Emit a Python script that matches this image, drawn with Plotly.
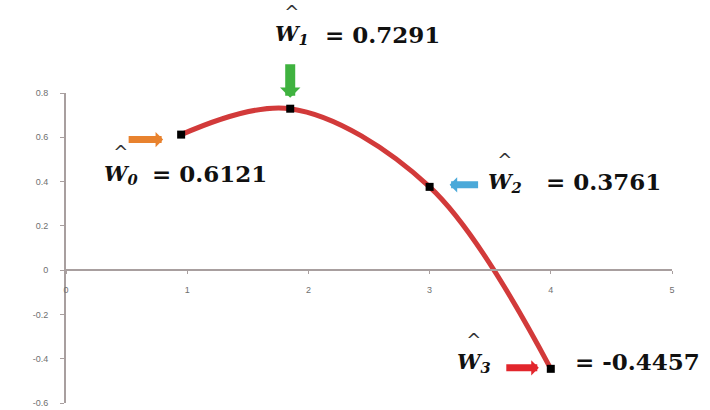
import plotly.graph_objects as go

# ---- data ----
x_vals = [0.95, 1.85, 3, 4]
w_vals = [0.6121, 0.7291, 0.3761, -0.4457]
w_subs = ["0", "1", "2", "3"]
w_text = ["= 0.6121", "= 0.7291", "= 0.3761", "= -0.4457"]

x_ticks = [0, 1, 2, 3, 4, 5]
x_ticktext = ["0", "1", "2", "3", "4", "5"]
y_ticks = [-0.6, -0.4, -0.2, 0, 0.2, 0.4, 0.6, 0.8]
y_ticktext = ["-0.6", "-0.4", "-0.2", "0", "0.2", "0.4", "0.6", "0.8"]

# ---- styling / label placement (pixel offsets from each point) ----
arrow_colors = ["#e8822e", "#3fb23f", "#4ba9d9", "#e2262c"]
arrow_ax = [-54, 0, 50, -46]
arrow_ay = [0, -46, 0, 0]
arrow_yshift = [-5, 0, 2, 1]
arrow_standoff = [18, 11, 20, 12]
arrow_width = [7, 10, 7, 7]
arrow_size = [0.36, 0.34, 0.36, 0.36]

w_xshift = [-79, -17, 56, -96]
w_yshift = [-30, 84, 14, 16]
v_xshift = [-31, 33, 114, 22]
v_yshift = [-39, 74, 5, 7]

axis_color = "#a89f9f"
tick_font = dict(family="Liberation Sans", size=9, color="#6f6f6f")
label_font = dict(family="DejaVu Serif", size=23, color="#111111")
w_font = dict(family="DejaVu Serif", size=21, color="#111111")
hat_html = ("<sub><span style='font-size:18px;font-family:DejaVu Sans;"
            "fill:#333'>^</span></sub>")

fig = go.Figure()
fig.add_trace(go.Scatter(
    x=x_vals, y=w_vals, mode="lines+markers",
    line=dict(color="#d23a3a", width=5, shape="spline", smoothing=1.0),
    marker=dict(symbol="square", size=8, color="black"),
    cliponaxis=False, showlegend=False, hoverinfo="skip",
))

annotations = []
for i in range(len(x_vals)):
    xv, yv = x_vals[i], w_vals[i]
    annotations.append(dict(
        x=xv, y=yv, xref="x", yref="y", text="", showarrow=True,
        ax=arrow_ax[i], ay=arrow_ay[i], arrowhead=1, arrowsize=arrow_size[i],
        arrowwidth=arrow_width[i], arrowcolor=arrow_colors[i],
        standoff=arrow_standoff[i], yshift=arrow_yshift[i],
    ))
    annotations.append(dict(
        x=xv, y=yv, xref="x", yref="y", showarrow=False,
        text=hat_html + "<br><b><i>W</i><sub><i>%s</i></sub></b>" % w_subs[i],
        font=w_font, xanchor="left", yanchor="middle", align="center",
        xshift=w_xshift[i], yshift=w_yshift[i],
    ))
    annotations.append(dict(
        x=xv, y=yv, xref="x", yref="y", showarrow=False,
        text="<b>%s</b>" % w_text[i],
        font=label_font, xanchor="left", yanchor="middle",
        xshift=v_xshift[i], yshift=v_yshift[i],
    ))

fig.update_layout(
    width=710, height=410,
    margin=dict(l=66, r=38, t=93, b=7, autoexpand=False),
    paper_bgcolor="white", plot_bgcolor="white",
    annotations=annotations,
    xaxis=dict(
        range=[0, 5], tickvals=x_ticks, ticktext=x_ticktext,
        showline=True, linecolor=axis_color, linewidth=2,
        ticks="outside", ticklen=3, tickcolor=axis_color,
        showgrid=False, zeroline=False, tickfont=tick_font,
        anchor="free", position=0.6 / 1.4, ticklabelstandoff=8,
        automargin=False,
    ),
    yaxis=dict(
        range=[-0.6, 0.8], tickvals=y_ticks, ticktext=y_ticktext,
        showline=True, linecolor=axis_color, linewidth=2,
        ticks="outside", ticklen=4, tickcolor=axis_color,
        showgrid=False, zeroline=False, tickfont=tick_font,
        ticklabelstandoff=10, automargin=False,
    ),
)

fig.write_html("out.html", config={"displayModeBar": False},
               post_script="document.body.style.margin='0';")
